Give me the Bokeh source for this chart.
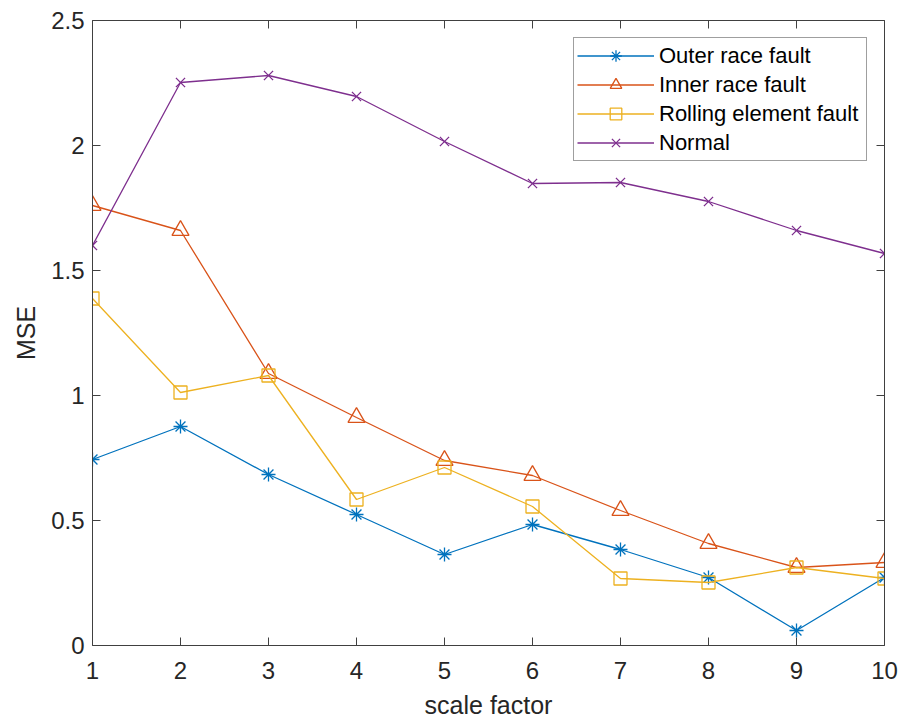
from bokeh.plotting import figure
from bokeh.models import (Range1d, LinearAxis, FixedTicker, CustomJSTickFormatter,
                          Legend, LegendItem)
from bokeh.embed import file_html
from bokeh.resources import INLINE

scale = [1, 2, 3, 4, 5, 6, 7, 8, 9, 10]
outer = [0.744, 0.876, 0.684, 0.524, 0.364, 0.484, 0.384, 0.272, 0.060, 0.272]
inner = [1.760, 1.660, 1.088, 0.912, 0.740, 0.680, 0.540, 0.408, 0.312, 0.332]
rolling = [1.388, 1.012, 1.080, 0.584, 0.712, 0.556, 0.268, 0.252, 0.312, 0.268]
normal = [1.600, 2.252, 2.280, 2.196, 2.016, 1.848, 1.852, 1.776, 1.660, 1.568]

names = ["Outer race fault", "Inner race fault", "Rolling element fault", "Normal"]
series = [outer, inner, rolling, normal]
colors = ["#0072BD", "#D95319", "#EDB120", "#7E2F8E"]
markers = ["asterisk", "triangle", "square", "x"]
msizes = [14, 17, 13, 13]

y_ticks = [0, 0.5, 1, 1.5, 2, 2.5]
x_ticks = [1, 2, 3, 4, 5, 6, 7, 8, 9, 10]

FONT = "Liberation Sans"
AX = "#404040"
TXT = "#262626"

p = figure(width=900, height=721, output_backend="svg", toolbar_location=None,
           x_range=Range1d(1, 10), y_range=Range1d(0, 2.5),
           min_border_left=92, min_border_right=16, min_border_top=20,
           min_border_bottom=76, x_axis_label="scale factor", y_axis_label="MSE")
p.grid.visible = False
p.outline_line_color = None
p.background_fill_color = "white"
p.border_fill_color = "white"

fmt = CustomJSTickFormatter(code="return String(Math.round(tick*10)/10);")

def style_axis(ax, ticks, show_labels=True):
    ax.ticker = FixedTicker(ticks=ticks)
    ax.formatter = fmt
    ax.major_tick_in = 8
    ax.major_tick_out = 0
    ax.minor_tick_line_color = None
    ax.axis_line_color = AX
    ax.major_tick_line_color = AX
    ax.axis_line_width = 1
    ax.major_label_text_font = FONT
    ax.major_label_text_color = TXT
    ax.major_label_text_font_size = "24px" if show_labels else "0px"
    ax.axis_label_text_font = FONT
    ax.axis_label_text_font_size = "25px"
    ax.axis_label_text_font_style = "normal"
    ax.axis_label_text_color = TXT
    if not show_labels:
        ax.major_label_standoff = 0

style_axis(p.xaxis[0], x_ticks)
style_axis(p.yaxis[0], y_ticks)
p.xaxis[0].major_label_standoff = 16
p.xaxis[0].axis_label_standoff = 9
p.yaxis[0].major_label_standoff = 8
p.yaxis[0].axis_label_standoff = 8

top = LinearAxis()
style_axis(top, x_ticks, show_labels=False)
p.add_layout(top, "above")
right = LinearAxis()
style_axis(right, y_ticks, show_labels=False)
p.add_layout(right, "right")

items = []
for name, ys, c, m, s in zip(names, series, colors, markers, msizes):
    ln = p.line(scale, ys, line_color=c, line_width=1.3)
    sc = p.scatter(scale, ys, marker=m, size=s, line_color=c, fill_color=None,
                   line_width=1.3)
    items.append(LegendItem(label=name, renderers=[ln, sc]))

legend = Legend(items=items, location=(481, 484))
legend.label_text_font = FONT
legend.label_text_font_size = "22px"
legend.label_text_color = "#000000"
legend.glyph_width = 77
legend.glyph_height = 29
legend.label_height = 22
legend.label_width = 204
legend.spacing = 0
legend.padding = 3
legend.margin = 0
legend.label_standoff = 5
legend.border_line_color = AX
legend.border_line_width = 1
legend.background_fill_color = "white"
legend.background_fill_alpha = 1
p.add_layout(legend, "center")

open("out.html", "w").write(file_html(p, INLINE))
